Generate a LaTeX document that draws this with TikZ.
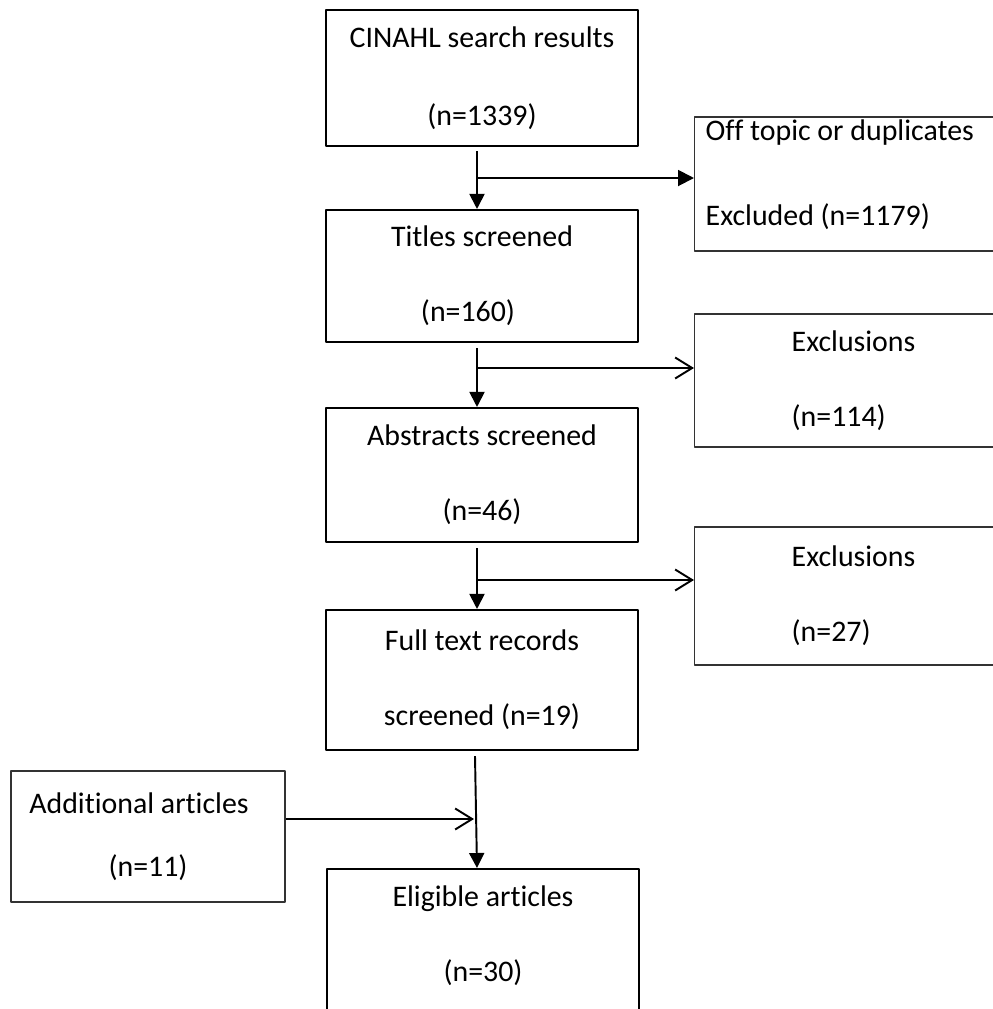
\documentclass[tikz,border=0pt]{standalone}
\usepackage{fontspec}
\setmainfont{Carlito}[Ligatures=NoCommon]
\usetikzlibrary{arrows.meta,calc}
\begin{document}
\begin{tikzpicture}[x=0.02cm, y=-0.02cm, font=\fontsize{17}{42.5}\selectfont, line join=round,
		box/.style={draw, line width=1.2pt, minimum width=6.24cm, align=center, inner sep=0pt},
		side/.style={draw=black!80, line width=0.8pt, anchor=west, align=flush left, inner ysep=0pt},
		dn/.style={line width=1.1pt, -{Triangle[length=0.3cm,width=0.3cm]}},
		op/.style={line width=1.1pt, -{Straight Barb[length=0.34cm,width=0.42cm]}}]
		\useasboundingbox (0,0) rectangle (993,1009);
		\clip (0,0) rectangle (993,1009);
		% main column
		\node[box, minimum height=2.72cm, font=\fontsize{17}{44.4}\selectfont] (cinahl) at (482,78) {CINAHL search results\\(n=1339)};
		\node[box, minimum height=2.64cm] (titles) at (482,276) {Titles screened\\(n=160)\hspace*{0.56cm}};
		\node[box, minimum height=2.68cm] (abstr) at (482,475) {Abstracts screened\\(n=46)};
		\node[box, minimum height=2.8cm] (full) at (482,680) {Full text records\\screened (n=19)};
		\node[box, minimum height=3cm, anchor=north] (elig) at (483,868) {Eligible articles\\(n=30)\rule[-0.42cm]{0pt}{0.42cm}};
		% side boxes
		\node[side, minimum height=2.68cm, text width=6cm, inner xsep=0.22cm, text depth=2.15cm,
			font=\fontsize{17}{48.4}\selectfont] (offtop) at (694,184) {Off topic or duplicates\\Excluded (n=1179)};
		\node[side, minimum height=2.66cm, text width=2.6cm, inner xsep=1.94cm] (excl1) at (694,380.5) {Exclusions\\(n=114)};
		\node[side, minimum height=2.76cm, text width=2.6cm, inner xsep=1.94cm] (excl2) at (694,596) {Exclusions\\(n=27)};
		\node[draw=black!80, line width=0.8pt, minimum width=5.48cm, minimum height=2.62cm, align=center,
			font=\fontsize{17}{36}\selectfont] (addl) at (148,836.5) {Additional articles\hspace*{0.36cm}\\(n=11)};
		% arrows
		\coordinate (j1) at (477,178);
		\coordinate (j2) at (477,368);
		\coordinate (j3) at (477,580);
		\coordinate (j4) at (474,819);
		\draw[dn] ([xshift=-0.1cm,yshift=-0.08cm]cinahl.south) -- ([xshift=-0.1cm]titles.north);
		\draw[line width=1.1pt, -{Triangle[length=0.32cm,width=0.32cm]}] (j1) -- (j1 -| offtop.west);
		\draw[dn] ([xshift=-0.1cm,yshift=-0.1cm]titles.south) -- ([xshift=-0.1cm]abstr.north);
		\draw[dn] ([xshift=-0.1cm,yshift=-0.1cm]abstr.south) -- ([xshift=-0.1cm]full.north);
		\foreach \j/\b in {j2/excl1, j3/excl2} \draw[op] (\j) -- (\j -| \b.west);
		\draw[dn] ([xshift=-0.14cm,yshift=-0.1cm]full.south) -- ([xshift=-0.12cm]elig.north);
		\draw[op] (addl.east |- j4) -- (j4);
\end{tikzpicture}
\end{document}
